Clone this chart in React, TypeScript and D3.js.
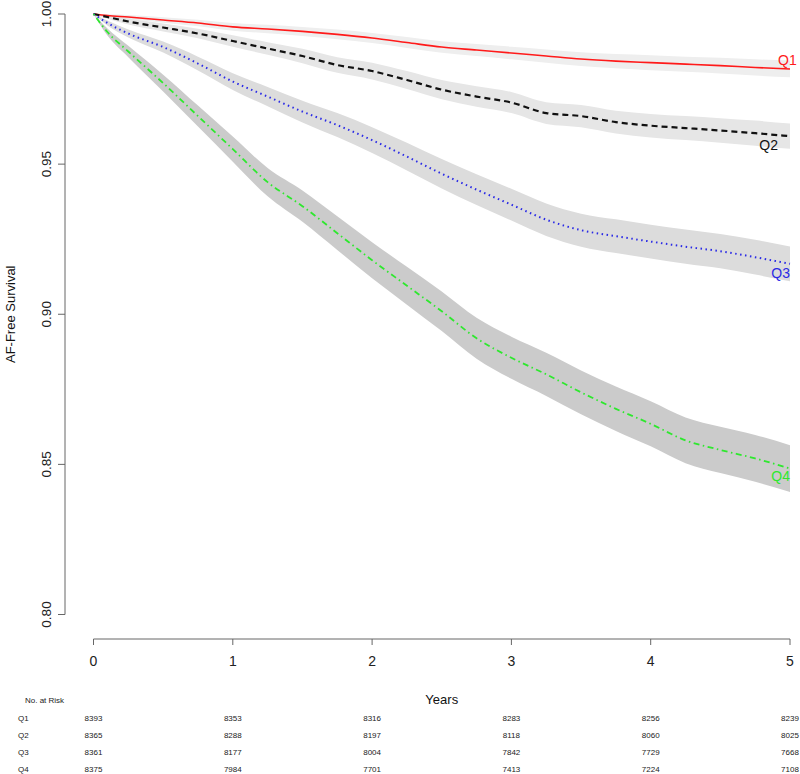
import React, { useEffect } from "react";
import * as d3 from "d3";

const years = [0, 0.1, 0.25, 0.5, 0.75, 1, 1.25, 1.5, 1.75, 2, 2.25, 2.5, 2.75, 3, 3.25, 3.5, 3.75, 4, 4.25, 4.5, 4.75, 5];

const q1 = [1, 0.9995, 0.999, 0.998, 0.997, 0.9957, 0.995, 0.9942, 0.9932, 0.992, 0.9905, 0.989, 0.988, 0.987, 0.986, 0.985, 0.9843, 0.9838, 0.9833, 0.9828, 0.9822, 0.9817];
const q2 = [1, 0.999, 0.9975, 0.9955, 0.9935, 0.991, 0.9885, 0.986, 0.983, 0.981, 0.978, 0.9748, 0.9725, 0.9705, 0.967, 0.966, 0.964, 0.9628, 0.962, 0.9612, 0.9603, 0.9593];
const q3 = [1, 0.997, 0.9935, 0.989, 0.9835, 0.9775, 0.9725, 0.9675, 0.963, 0.958, 0.9525, 0.9468, 0.9415, 0.9365, 0.9315, 0.928, 0.926, 0.9242, 0.9225, 0.921, 0.919, 0.9168];
const q4 = [1, 0.994, 0.9875, 0.977, 0.966, 0.955, 0.944, 0.936, 0.927, 0.918, 0.9095, 0.901, 0.892, 0.8855, 0.88, 0.874, 0.8685, 0.8635, 0.858, 0.8548, 0.852, 0.8486];

// confidence band half-widths
const q1ci = [0, 0.0004, 0.0007, 0.0009, 0.0011, 0.0013, 0.0014, 0.0015, 0.0016, 0.0017, 0.0018, 0.0019, 0.002, 0.0021, 0.0022, 0.0023, 0.0024, 0.0025, 0.0025, 0.0026, 0.0027, 0.0028];
const q2ci = [0, 0.0006, 0.001, 0.0013, 0.0016, 0.0019, 0.0021, 0.0024, 0.0026, 0.0028, 0.003, 0.0032, 0.0034, 0.0035, 0.0036, 0.0037, 0.0038, 0.0039, 0.004, 0.0041, 0.0042, 0.0042];
const q3ci = [0, 0.0008, 0.0013, 0.0018, 0.0023, 0.0028, 0.0032, 0.0036, 0.004, 0.0043, 0.0046, 0.0049, 0.0051, 0.0053, 0.0054, 0.0055, 0.0056, 0.0056, 0.0057, 0.0057, 0.0058, 0.0058];
const q4ci = [0, 0.0012, 0.0019, 0.0028, 0.0035, 0.0042, 0.0047, 0.0052, 0.0056, 0.006, 0.0063, 0.0066, 0.0068, 0.007, 0.0072, 0.0073, 0.0074, 0.0075, 0.0076, 0.0077, 0.0078, 0.0078];

const seriesNames = ["Q1", "Q2", "Q3", "Q4"];
const lineColors = ["#ff1a1a", "#111111", "#2a2ae6", "#2ee82e"];
const bandColors = ["#eeeeee", "#e6e6e6", "#dcdcdc", "#cbcbcb"];

const yTicks = [0.8, 0.85, 0.9, 0.95, 1.0];
const xTicks = [0, 1, 2, 3, 4, 5];

const riskQ1 = [8393, 8353, 8316, 8283, 8256, 8239];
const riskQ2 = [8365, 8288, 8197, 8118, 8060, 8025];
const riskQ3 = [8361, 8177, 8004, 7842, 7729, 7668];
const riskQ4 = [8375, 7984, 7701, 7413, 7224, 7108];

export default function App() {
  useEffect(() => {
    document.body.style.margin = "0";
  }, []);

  const W = 800, H = 774;
  const x = d3.scaleLinear().domain([0, 5]).range([93.5, 790]);
  const y = d3.scaleLinear().domain([0.8, 1.0]).range([614.5, 14]);

  const vals = [q1, q2, q3, q4];
  const cis = [q1ci, q2ci, q3ci, q4ci];
  const risks = [riskQ1, riskQ2, riskQ3, riskQ4];
  const dashes = [null, "6,4", "1.5,3.5", "1.5,3.5,6,3.5"];
  const widths = [1.6, 2.2, 2.0, 1.8];

  const line = d3.line<number>().x((_, i) => x(years[i])).y((d) => y(d)).curve(d3.curveMonotoneX);
  const area = (v: number[], c: number[]) =>
    d3.area<number>()
      .x((_, i) => x(years[i]))
      .y0((d, i) => y(d - c[i]))
      .y1((d, i) => y(d + c[i]))
      .curve(d3.curveMonotoneX)(v) || "";

  const labelPos = [
    { dx: -12, dy: -4, anchor: "start" },
    { dx: -12, dy: 14, anchor: "end" },
    { dx: 0, dy: 14, anchor: "end" },
    { dx: 0, dy: 12, anchor: "end" },
  ];

  const font = "Liberation Sans, Arial, Helvetica, sans-serif";
  const axisColor = "#666";
  const axisY = 639;
  const axisX = 65;
  const riskRowsY = [721, 738, 755, 772];

  return (
    <svg width={W} height={H} style={{ display: "block" }} fontFamily={font}>
      <rect width={W} height={H} fill="#fff" />
      {vals.map((v, k) => (
        <path key={"b" + k} d={area(v, cis[k])} fill={bandColors[k]} stroke="none" />
      ))}
      {vals.map((v, k) => (
        <path
          key={"l" + k}
          d={line(v) || ""}
          fill="none"
          stroke={lineColors[k]}
          strokeWidth={widths[k]}
          strokeDasharray={dashes[k] || undefined}
        />
      ))}
      {vals.map((v, k) => (
        <text
          key={"t" + k}
          x={x(5) + labelPos[k].dx}
          y={y(v[v.length - 1]) + labelPos[k].dy}
          textAnchor={labelPos[k].anchor}
          fontSize={14}
          fill={lineColors[k]}
        >
          {seriesNames[k]}
        </text>
      ))}

      {/* Y axis */}
      <line x1={axisX} x2={axisX} y1={y(1.0)} y2={y(0.8)} stroke={axisColor} strokeWidth={1} />
      {yTicks.map((t) => (
        <g key={"yt" + t}>
          <line x1={axisX - 7} x2={axisX} y1={y(t)} y2={y(t)} stroke={axisColor} />
          <text
            transform={`translate(${axisX - 14},${y(t)}) rotate(-90)`}
            textAnchor="middle"
            fontSize={13.5}
            fill="#222"
          >
            {t.toFixed(2)}
          </text>
        </g>
      ))}
      <text
        transform={`translate(15,${(y(1) + y(0.8)) / 2}) rotate(-90)`}
        textAnchor="middle"
        fontSize={13}
        fill="#111"
      >
        AF-Free Survival
      </text>

      {/* X axis */}
      <line x1={x(0)} x2={x(5)} y1={axisY} y2={axisY} stroke={axisColor} />
      {xTicks.map((t) => (
        <g key={"xt" + t}>
          <line x1={x(t)} x2={x(t)} y1={axisY} y2={axisY + 6} stroke={axisColor} />
          <text x={x(t)} y={axisY + 27} textAnchor="middle" fontSize={14} fill="#222">
            {t}
          </text>
        </g>
      ))}
      <text x={(x(0) + x(5)) / 2} y={704} textAnchor="middle" fontSize={13} fill="#111">
        Years
      </text>

      {/* Risk table */}
      <text x={25} y={703} fontSize={8} fill="#222">No. at Risk</text>
      {risks.map((r, k) => (
        <g key={"r" + k}>
          <text x={18} y={riskRowsY[k]} fontSize={8} fill="#222">{seriesNames[k]}</text>
          {r.map((n, i) => (
            <text key={i} x={x(xTicks[i])} y={riskRowsY[k]} textAnchor="middle" fontSize={8} fill="#222">
              {n}
            </text>
          ))}
        </g>
      ))}
    </svg>
  );
}
